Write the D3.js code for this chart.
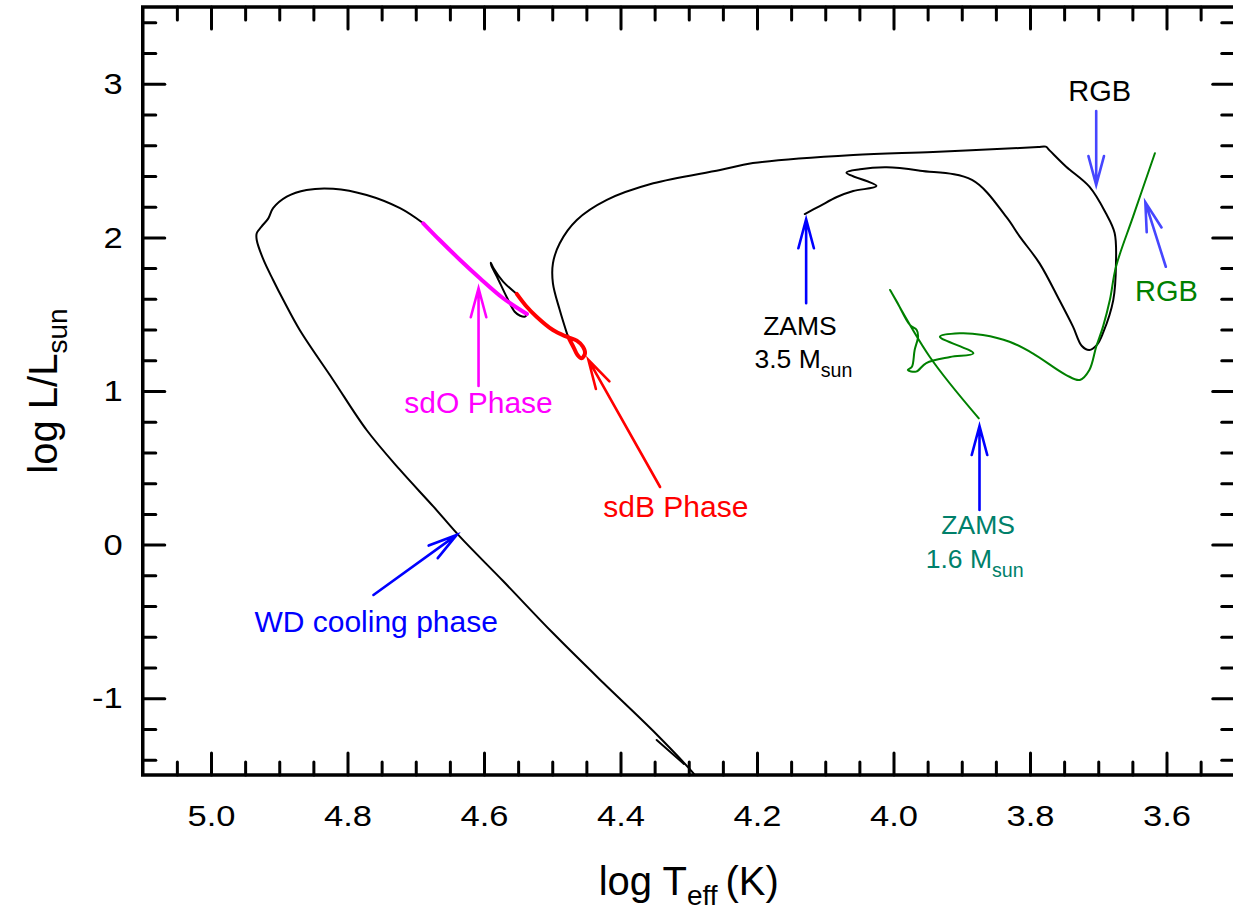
<!DOCTYPE html>
<html>
<head>
<meta charset="utf-8">
<script src="https://cdn.jsdelivr.net/npm/d3@7"></script>
<style>
  html, body { margin: 0; padding: 0; background: #fff; }
  svg { display: block; font-family: "Liberation Sans", Arial, Helvetica, sans-serif; }
</style>
</head>
<body>
<svg id="chart" width="1233" height="914"></svg>
<script>
// ---- Evolutionary tracks, [log Teff, log L/Lsun] ----

// 3.5 Msun: ZAMS, hook, subgiant crossing, RGB, blueward excursion down to the EHB
const track35 = [
  [4.130, 2.152], [4.108, 2.204], [4.083, 2.263], [4.059, 2.302], [4.025, 2.335],
  [4.069, 2.421], [4.049, 2.443], [4.010, 2.456], [3.961, 2.434], [3.885, 2.374],
  [3.835, 2.135], [3.815, 2.005], [3.786, 1.831], [3.757, 1.592], [3.737, 1.419],
  [3.724, 1.293], [3.713, 1.267], [3.702, 1.300], [3.693, 1.378], [3.678, 1.592],
  [3.674, 1.833], [3.676, 2.029], [3.689, 2.159], [3.713, 2.330], [3.747, 2.460],
  [3.771, 2.565], [3.777, 2.591], [3.788, 2.588], [3.815, 2.582], [3.942, 2.556],
  [4.059, 2.537], [4.206, 2.484], [4.254, 2.439], [4.352, 2.352], [4.420, 2.244],
  [4.464, 2.113], [4.489, 1.962], [4.499, 1.831], [4.499, 1.701], [4.489, 1.527],
  [4.477, 1.354]
];

// sdB phase (core He burning on the EHB)
const sdbPhase = [
  [4.477, 1.354], [4.473, 1.321], [4.468, 1.278], [4.463, 1.234], [4.457, 1.213],
  [4.452, 1.245], [4.455, 1.288], [4.464, 1.328], [4.480, 1.355], [4.499, 1.397],
  [4.523, 1.484], [4.539, 1.557], [4.552, 1.632]
];

// short loop between the sdB and sdO phases
const postSdbLoop = [
  [4.552, 1.632], [4.572, 1.712], [4.586, 1.799], [4.590, 1.835], [4.589, 1.814],
  [4.581, 1.744], [4.567, 1.614], [4.555, 1.516], [4.547, 1.490], [4.540, 1.484],
  [4.537, 1.501]
];

// sdO phase
const sdoPhase = [
  [4.537, 1.501], [4.572, 1.604], [4.606, 1.734], [4.635, 1.853], [4.665, 1.983],
  [4.689, 2.092]
];

// post-sdO knee and white dwarf cooling sequence
const wdCooling = [
  [4.689, 2.092], [4.723, 2.190], [4.772, 2.276], [4.821, 2.317], [4.860, 2.309],
  [4.889, 2.265], [4.909, 2.190], [4.916, 2.124], [4.926, 2.070], [4.933, 2.027],
  [4.933, 1.983], [4.923, 1.853], [4.909, 1.723], [4.894, 1.592], [4.870, 1.397],
  [4.821, 1.072], [4.772, 0.746], [4.723, 0.486], [4.674, 0.247], [4.635, 0.050],
  [4.572, -0.237], [4.499, -0.576], [4.425, -0.901], [4.352, -1.214], [4.293, -1.489],
  [4.288, -1.516]
];
const wdTail = [[4.347, -1.272], [4.307, -1.428]];

// 1.6 Msun: ZAMS to the RGB
const track16 = [
  [3.875, 0.822], [3.947, 1.223], [4.005, 1.658], [3.995, 1.581], [3.976, 1.430],
  [3.966, 1.397], [3.964, 1.354], [3.969, 1.267], [3.973, 1.158], [3.979, 1.137],
  [3.967, 1.126], [3.952, 1.182], [3.917, 1.221], [3.883, 1.245], [3.932, 1.354],
  [3.903, 1.376], [3.869, 1.365], [3.830, 1.321], [3.796, 1.245], [3.747, 1.104],
  [3.727, 1.072], [3.713, 1.137], [3.703, 1.288], [3.693, 1.419], [3.683, 1.592],
  [3.674, 1.809], [3.649, 2.135], [3.617, 2.548]
];

// ---- Axis ticks ----
const xMajorTicks = [5.0, 4.8, 4.6, 4.4, 4.2, 4.0, 3.8, 3.6];
const xMinorTicks = d3.range(71, 102).filter(i => i % 4 !== 0).map(i => i / 20);
const yMajorTicks = [-1, 0, 1, 2, 3];
const yMinorTicks = d3.range(-7, 18).filter(i => i % 5 !== 0).map(i => i / 5);

// ---- Annotation arrows [log Teff, log L] ----
const arrows = [
  { from: [4.128, 1.571], to: [4.128, 2.118], color: "#0000ff" },  // ZAMS 3.5
  { from: [3.874, 0.225], to: [3.874, 0.772], color: "#0000ff" },  // ZAMS 1.6
  { from: [3.703, 2.823], to: [3.703, 2.341], color: "#4646ff" },  // RGB (3.5)
  { from: [3.601, 1.809], to: [3.631, 2.229], color: "#4646ff" },  // RGB (1.6)
  { from: [4.608, 1.033], to: [4.608, 1.669], color: "#ff00ff" },  // sdO
  { from: [4.342, 0.375], to: [4.447, 1.202], color: "#ff0000" },  // sdB
  { from: [4.762, -0.328], to: [4.640, 0.063], color: "#0000ff" }  // WD
];

// ---- Annotation labels ----
const labels = [
  { at: [3.698, 2.890], main: "RGB", color: "#000000", size: 29 },
  { at: [3.600, 1.586], main: "RGB", color: "#008000", size: 29 },
  { at: [4.608, 0.857], main: "sdO Phase", color: "#ff00ff", size: 30 },
  { at: [4.319, 0.182], main: "sdB Phase", color: "#ff0000", size: 30 },
  { at: [4.758, -0.567], main: "WD cooling phase", color: "#0000ff", size: 30 },
  { at: [4.137, 1.365], main: "ZAMS", color: "#000000", size: 26.5 },
  { at: [4.132, 1.148], main: "3.5 M", sub: "sun", color: "#000000", size: 26.5 },
  { at: [3.876, 0.067], main: "ZAMS", color: "#00806a", size: 26.5 },
  { at: [3.881, -0.154], main: "1.6 M", sub: "sun", color: "#00806a", size: 26.5 }
];

// ---- Layout ----
const svg = d3.select("#chart");
const plot = { left: 142.75, right: 1234.75, top: 7, bottom: 775 };

const x = d3.scaleLinear().domain([5.1, 3.5]).range([plot.left, plot.right]);
const y = d3.scaleLinear().domain([-1.5, 3.5]).range([plot.bottom, plot.top]);

svg.append("defs").append("clipPath").attr("id", "plotClip")
  .append("rect")
  .attr("x", plot.left).attr("y", plot.top)
  .attr("width", plot.right - plot.left).attr("height", plot.bottom - plot.top);

const MAJOR = 22, MINOR = 13;

function styleTicks(g) {
  g.select(".domain").remove();
  g.selectAll(".tick line")
    .attr("stroke", "#000").attr("stroke-width", 3).attr("stroke-linecap", "round");
}

// bottom
svg.append("g").attr("transform", `translate(0,${plot.bottom})`)
  .call(d3.axisBottom(x).tickValues(xMinorTicks).tickSize(-MINOR).tickFormat(""))
  .call(styleTicks);
const gxb = svg.append("g").attr("transform", `translate(0,${plot.bottom})`)
  .call(d3.axisBottom(x).tickValues(xMajorTicks).tickSizeInner(-MAJOR).tickSizeOuter(0)
    .tickPadding(30).tickFormat(d3.format(".1f")))
  .call(styleTicks);
gxb.selectAll(".tick text")
  .attr("font-size", 30).attr("fill", "#000")
  .attr("font-family", "Liberation Sans, Arial, sans-serif")
  .attr("transform", "scale(1.15,1)");

// top
svg.append("g").attr("transform", `translate(0,${plot.top})`)
  .call(d3.axisTop(x).tickValues(xMinorTicks).tickSize(-MINOR).tickFormat(""))
  .call(styleTicks);
svg.append("g").attr("transform", `translate(0,${plot.top})`)
  .call(d3.axisTop(x).tickValues(xMajorTicks).tickSize(-MAJOR).tickFormat(""))
  .call(styleTicks);

// left
svg.append("g").attr("transform", `translate(${plot.left},0)`)
  .call(d3.axisLeft(y).tickValues(yMinorTicks).tickSize(-MINOR).tickFormat(""))
  .call(styleTicks);
const gyl = svg.append("g").attr("transform", `translate(${plot.left},0)`)
  .call(d3.axisLeft(y).tickValues(yMajorTicks).tickSizeInner(-MAJOR).tickSizeOuter(0)
    .tickPadding(20).tickFormat(d3.format("d")))
  .call(styleTicks);
gyl.selectAll(".tick text")
  .attr("font-size", 30).attr("fill", "#000")
  .attr("font-family", "Liberation Sans, Arial, sans-serif")
  .attr("x", -20 / 1.15)
  .attr("transform", "scale(1.15,1)")
  .text(d => (d < 0 ? "-" + Math.abs(d) : String(d)));

// right
svg.append("g").attr("transform", `translate(${plot.right},0)`)
  .call(d3.axisRight(y).tickValues(yMinorTicks).tickSize(-MINOR).tickFormat(""))
  .call(styleTicks);
svg.append("g").attr("transform", `translate(${plot.right},0)`)
  .call(d3.axisRight(y).tickValues(yMajorTicks).tickSize(-MAJOR).tickFormat(""))
  .call(styleTicks);

// frame
svg.append("rect")
  .attr("x", plot.left).attr("y", plot.top)
  .attr("width", plot.right - plot.left).attr("height", plot.bottom - plot.top)
  .attr("fill", "none").attr("stroke", "#000").attr("stroke-width", 3.5);

// ---- Tracks ----
const line = d3.line()
  .x(d => x(d[0])).y(d => y(d[1]))
  .curve(d3.curveCatmullRom.alpha(0.5));

const tracks = svg.append("g").attr("clip-path", "url(#plotClip)")
  .attr("fill", "none").attr("stroke-linejoin", "round").attr("stroke-linecap", "round");

[
  { data: track35, color: "#000000", width: 2 },
  { data: postSdbLoop, color: "#000000", width: 2 },
  { data: wdCooling, color: "#000000", width: 2 },
  { data: wdTail, color: "#000000", width: 2 },
  { data: track16, color: "#008000", width: 2 },
  { data: sdbPhase, color: "#ff0000", width: 4 },
  { data: sdoPhase, color: "#ff00ff", width: 4 }
].forEach(t => {
  tracks.append("path").datum(t.data)
    .attr("d", line).attr("stroke", t.color).attr("stroke-width", t.width);
});

// ---- Arrows ----
const arrowG = svg.append("g").attr("fill", "none").attr("stroke-linecap", "round");
const HEAD = 30, SPREAD = 15 * Math.PI / 180;
arrows.forEach(a => {
  const x0 = x(a.from[0]), y0 = y(a.from[1]);
  const x1 = x(a.to[0]), y1 = y(a.to[1]);
  const ang = Math.atan2(y0 - y1, x0 - x1);
  const barb = s => [x1 + HEAD * Math.cos(ang + s), y1 + HEAD * Math.sin(ang + s)];
  const b1 = barb(SPREAD), b2 = barb(-SPREAD);
  arrowG.append("path")
    .attr("d", `M${x0},${y0}L${x1},${y1}M${b1[0]},${b1[1]}L${x1},${y1}L${b2[0]},${b2[1]}`)
    .attr("stroke", a.color).attr("stroke-width", 2.6).attr("stroke-linejoin", "miter");
});

// ---- Labels ----
labels.forEach(l => {
  const t = svg.append("text")
    .attr("x", x(l.at[0])).attr("y", y(l.at[1]))
    .attr("text-anchor", "middle").attr("fill", l.color).attr("font-size", l.size);
  t.append("tspan").text(l.main);
  if (l.sub) {
    t.append("tspan").attr("font-size", l.size * 0.74).attr("dy", 8.4).text(l.sub);
  }
});

// ---- Axis titles ----
const xt = svg.append("text")
  .attr("x", (plot.left + plot.right) / 2).attr("y", 895)
  .attr("text-anchor", "middle").attr("font-size", 40).attr("fill", "#000");
xt.append("tspan").text("log T");
xt.append("tspan").attr("font-size", 28).attr("dy", 10).text("eff");
xt.append("tspan").attr("dy", -10).attr("dx", 8).text("(K)");

const yt = svg.append("text")
  .attr("transform", `translate(57,${(plot.top + plot.bottom) / 2}) rotate(-90)`)
  .attr("text-anchor", "middle").attr("font-size", 40).attr("fill", "#000");
yt.append("tspan").text("log L/L");
yt.append("tspan").attr("font-size", 28).attr("dy", 10).text("sun");
</script>
</body>
</html>
